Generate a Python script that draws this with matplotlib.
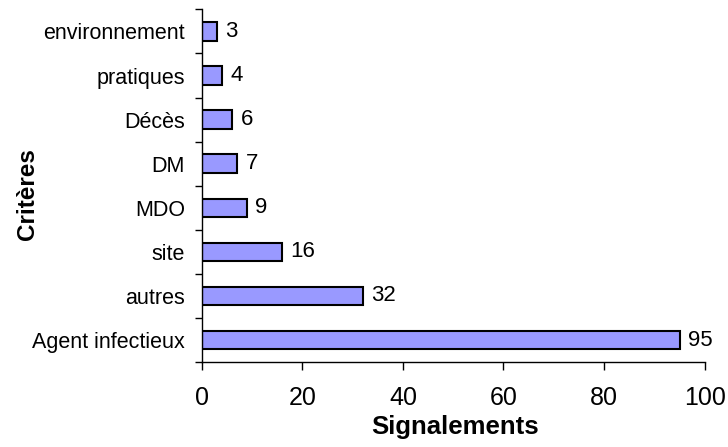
import matplotlib
matplotlib.use("Agg")
import matplotlib.pyplot as plt
import numpy as np

categories = ["Agent infectieux", "autres", "site", "MDO", "DM", "Décès", "pratiques", "environnement"]
values = [95, 32, 16, 9, 7, 6, 4, 3]
x_ticks = [0, 20, 40, 60, 80, 100]

plt.rcParams["font.family"] = ["Liberation Sans", "DejaVu Sans"]

fig = plt.figure(figsize=(7.28, 4.47), dpi=100)
ax = fig.add_axes([0.277, 0.19, 0.691, 0.789])

y = np.arange(len(categories))
ax.barh(y, values, height=0.42, color="#9999FF", edgecolor="black", linewidth=1.5)

for yi, v in zip(y, values):
    ax.text(v + 1.7, yi, str(v), va="center", ha="left", fontsize=16)

ax.set_xlim(0, 100)
ax.set_ylim(-0.5, len(categories) - 0.5)
ax.set_xticks(x_ticks)
ax.set_xticklabels([str(t) for t in x_ticks], fontsize=18)
ax.tick_params(axis="x", direction="out", length=6, width=1, pad=11)

ax.set_yticks(y)
ax.set_yticklabels(categories, fontsize=15.5)
ax.tick_params(axis="y", which="major", length=0, pad=12)
ax.set_yticks(np.arange(len(categories) + 1) - 0.5, minor=True)
ax.tick_params(axis="y", which="minor", direction="out", length=5, width=1)

for side in ("top", "right"):
    ax.spines[side].set_visible(False)
for side in ("left", "bottom"):
    ax.spines[side].set_linewidth(1)

ax.set_xlabel("Signalements", fontsize=18.5, fontweight="bold", va="top")
ax.xaxis.set_label_coords(0.503, -0.15)
ax.set_ylabel("Critères", fontsize=17.5, fontweight="bold")
ax.yaxis.set_label_coords(-0.323, 0.477)

fig.savefig("out.png", dpi=100)
